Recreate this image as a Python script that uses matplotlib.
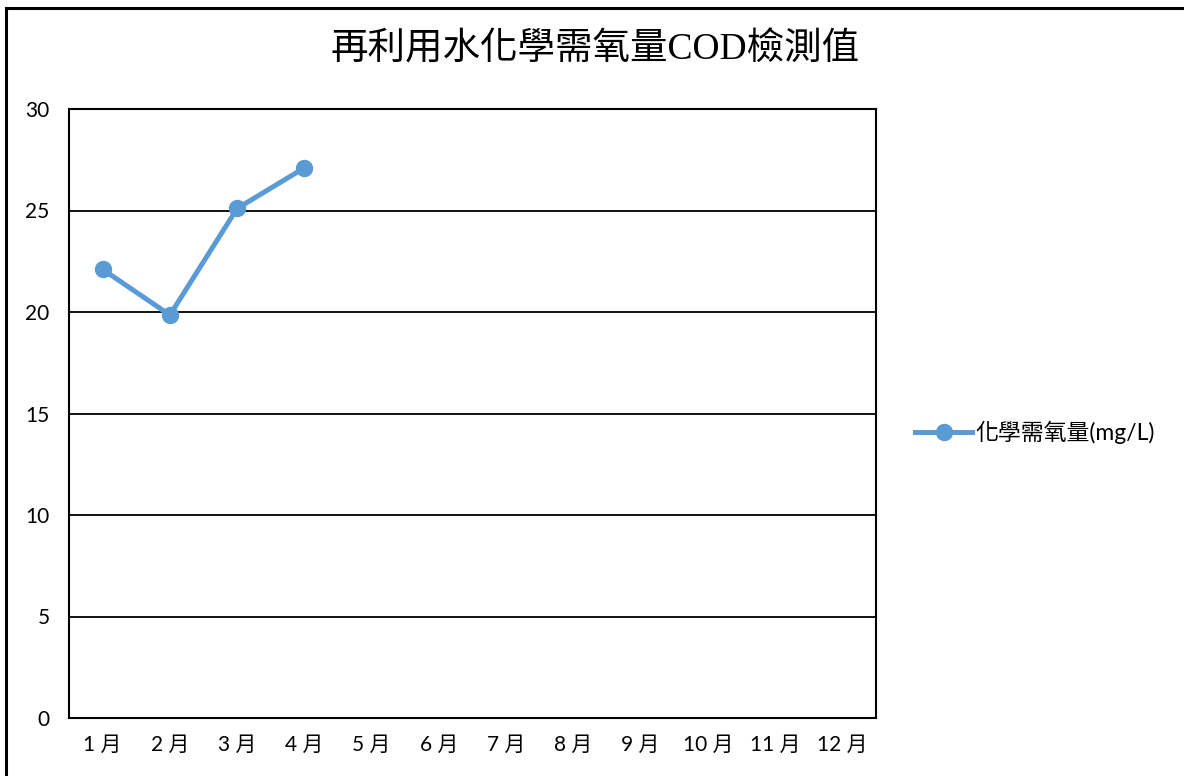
import matplotlib.pyplot as plt
from matplotlib.lines import Line2D

plt.rcParams['font.family'] = ['Lato', 'Noto Sans CJK TC', 'DejaVu Sans']

# 再利用水 COD 檢測值
months = [f"{i} 月" for i in range(1, 13)]
cod_values = [22.1, 19.85, 25.1, 27.1]  # 1~4月
series_name = "化學需氧量(mg/L)"
title = "再利用水化學需氧量COD檢測值"

fig = plt.figure(figsize=(11.84, 7.76), dpi=100)
ax = fig.add_axes([69/1184, 1-718/776, 807/1184, 609/776])

ax.plot(range(len(cod_values)), cod_values, color="#5B9BD5", lw=3.6,
        marker="o", markersize=11.5, label=series_name, zorder=3)

ax.set_xlim(-0.5, 11.5)
ax.set_ylim(0, 30)
ax.set_xticks(range(12))
ax.set_xticklabels(months)
ax.set_yticks(range(0, 31, 5))
ax.tick_params(axis='both', length=0, labelsize=15, colors='black')
ax.tick_params(axis='y', pad=14)
ax.tick_params(axis='x', pad=12)
ax.grid(axis='y', color='black', lw=1.3)
ax.set_axisbelow(True)
for s in ax.spines.values():
    s.set_linewidth(1.5)
    s.set_color('black')

fig.text(0.503, 1-50/776, title, ha='center', va='center', fontsize=27,
         family=['Liberation Serif', 'Noto Sans CJK TC'])

ax.legend(loc='center left', bbox_to_anchor=(915/1184, 1-432/776),
          bbox_transform=fig.transFigure, frameon=False, fontsize=16.5,
          handlelength=2.5, handletextpad=0.15, borderpad=0, borderaxespad=0)

# 外框 (上、左)
fig.add_artist(Line2D([6/1184, 1], [1-7.5/776, 1-7.5/776], color='black', lw=2.2,
                      transform=fig.transFigure))
fig.add_artist(Line2D([6/1184, 6/1184], [0, 1-7.5/776], color='black', lw=2.2,
                      transform=fig.transFigure))

fig.savefig("out.png", dpi=100)
